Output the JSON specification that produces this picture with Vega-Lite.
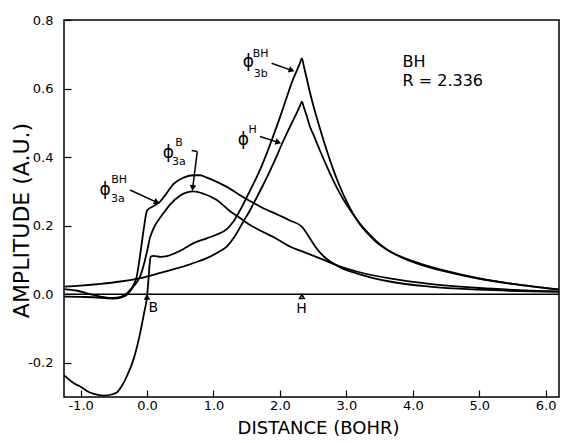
{
  "$schema": "https://vega.github.io/schema/vega-lite/v6.json",
  "width": 495,
  "height": 377,
  "autosize": {"type": "none"},
  "padding": {"left": 64, "top": 20, "right": 3, "bottom": 46},
  "background": "white",
  "config": {"view": {"stroke": "black", "strokeWidth": 1.5}, "font": "DejaVu Sans"},
  "datasets": {
    "axis0": [{"x": -1.25, "x2": 6.2, "y": 0}],
    "curves": [
      {"s": "3bBH", "x": -1.25, "y": -0.236}, {"s": "3bBH", "x": -1.1, "y": -0.26}, {"s": "3bBH", "x": -1.0, "y": -0.27},
      {"s": "3bBH", "x": -0.9, "y": -0.283}, {"s": "3bBH", "x": -0.8, "y": -0.291}, {"s": "3bBH", "x": -0.65, "y": -0.296},
      {"s": "3bBH", "x": -0.52, "y": -0.292}, {"s": "3bBH", "x": -0.45, "y": -0.286}, {"s": "3bBH", "x": -0.38, "y": -0.268},
      {"s": "3bBH", "x": -0.3, "y": -0.238}, {"s": "3bBH", "x": -0.2, "y": -0.188}, {"s": "3bBH", "x": -0.1, "y": -0.11},
      {"s": "3bBH", "x": -0.045, "y": -0.055}, {"s": "3bBH", "x": 0.0, "y": -0.006}, {"s": "3bBH", "x": 0.02, "y": 0.04},
      {"s": "3bBH", "x": 0.04, "y": 0.09}, {"s": "3bBH", "x": 0.055, "y": 0.11}, {"s": "3bBH", "x": 0.1, "y": 0.112},
      {"s": "3bBH", "x": 0.2, "y": 0.109}, {"s": "3bBH", "x": 0.3, "y": 0.111}, {"s": "3bBH", "x": 0.4, "y": 0.118},
      {"s": "3bBH", "x": 0.55, "y": 0.132}, {"s": "3bBH", "x": 0.7, "y": 0.149}, {"s": "3bBH", "x": 0.9, "y": 0.163},
      {"s": "3bBH", "x": 1.05, "y": 0.174}, {"s": "3bBH", "x": 1.2, "y": 0.19}, {"s": "3bBH", "x": 1.3, "y": 0.212},
      {"s": "3bBH", "x": 1.4, "y": 0.245}, {"s": "3bBH", "x": 1.5, "y": 0.283}, {"s": "3bBH", "x": 1.6, "y": 0.322},
      {"s": "3bBH", "x": 1.7, "y": 0.363}, {"s": "3bBH", "x": 1.8, "y": 0.41}, {"s": "3bBH", "x": 1.9, "y": 0.462},
      {"s": "3bBH", "x": 2.0, "y": 0.516}, {"s": "3bBH", "x": 2.1, "y": 0.573}, {"s": "3bBH", "x": 2.2, "y": 0.628},
      {"s": "3bBH", "x": 2.26, "y": 0.655}, {"s": "3bBH", "x": 2.3, "y": 0.674}, {"s": "3bBH", "x": 2.33, "y": 0.688},
      {"s": "3bBH", "x": 2.36, "y": 0.665}, {"s": "3bBH", "x": 2.4, "y": 0.632}, {"s": "3bBH", "x": 2.45, "y": 0.59},
      {"s": "3bBH", "x": 2.52, "y": 0.538}, {"s": "3bBH", "x": 2.6, "y": 0.485}, {"s": "3bBH", "x": 2.7, "y": 0.422},
      {"s": "3bBH", "x": 2.8, "y": 0.365}, {"s": "3bBH", "x": 2.9, "y": 0.315}, {"s": "3bBH", "x": 3.0, "y": 0.272},
      {"s": "3bBH", "x": 3.1, "y": 0.235}, {"s": "3bBH", "x": 3.2, "y": 0.205}, {"s": "3bBH", "x": 3.33, "y": 0.175},
      {"s": "3bBH", "x": 3.45, "y": 0.152}, {"s": "3bBH", "x": 3.6, "y": 0.131}, {"s": "3bBH", "x": 3.8, "y": 0.111},
      {"s": "3bBH", "x": 4.1, "y": 0.09}, {"s": "3bBH", "x": 4.5, "y": 0.068}, {"s": "3bBH", "x": 5.0, "y": 0.046},
      {"s": "3bBH", "x": 5.5, "y": 0.03}, {"s": "3bBH", "x": 6.2, "y": 0.014},

      {"s": "H", "x": -1.25, "y": 0.022}, {"s": "H", "x": -1.0, "y": 0.025}, {"s": "H", "x": -0.7, "y": 0.03},
      {"s": "H", "x": -0.4, "y": 0.037}, {"s": "H", "x": -0.1, "y": 0.047}, {"s": "H", "x": 0.2, "y": 0.062},
      {"s": "H", "x": 0.5, "y": 0.078}, {"s": "H", "x": 0.7, "y": 0.091}, {"s": "H", "x": 0.9, "y": 0.105},
      {"s": "H", "x": 1.1, "y": 0.126}, {"s": "H", "x": 1.2, "y": 0.139}, {"s": "H", "x": 1.3, "y": 0.163},
      {"s": "H", "x": 1.45, "y": 0.212}, {"s": "H", "x": 1.55, "y": 0.245}, {"s": "H", "x": 1.65, "y": 0.282},
      {"s": "H", "x": 1.75, "y": 0.32}, {"s": "H", "x": 1.85, "y": 0.36}, {"s": "H", "x": 1.95, "y": 0.402},
      {"s": "H", "x": 2.025, "y": 0.436}, {"s": "H", "x": 2.1, "y": 0.468}, {"s": "H", "x": 2.18, "y": 0.5},
      {"s": "H", "x": 2.26, "y": 0.532}, {"s": "H", "x": 2.3, "y": 0.549}, {"s": "H", "x": 2.33, "y": 0.562},
      {"s": "H", "x": 2.36, "y": 0.545}, {"s": "H", "x": 2.4, "y": 0.522}, {"s": "H", "x": 2.45, "y": 0.49},
      {"s": "H", "x": 2.52, "y": 0.458}, {"s": "H", "x": 2.6, "y": 0.42}, {"s": "H", "x": 2.7, "y": 0.375},
      {"s": "H", "x": 2.8, "y": 0.333}, {"s": "H", "x": 2.9, "y": 0.295}, {"s": "H", "x": 3.0, "y": 0.262},
      {"s": "H", "x": 3.1, "y": 0.233}, {"s": "H", "x": 3.2, "y": 0.207}, {"s": "H", "x": 3.33, "y": 0.178},
      {"s": "H", "x": 3.45, "y": 0.155}, {"s": "H", "x": 3.6, "y": 0.132}, {"s": "H", "x": 3.8, "y": 0.11},
      {"s": "H", "x": 4.1, "y": 0.087}, {"s": "H", "x": 4.5, "y": 0.066}, {"s": "H", "x": 5.0, "y": 0.045},
      {"s": "H", "x": 5.5, "y": 0.03}, {"s": "H", "x": 6.2, "y": 0.013},

      {"s": "3aBH", "x": -1.25, "y": 0.015}, {"s": "3aBH", "x": -1.05, "y": 0.01}, {"s": "3aBH", "x": -0.86, "y": 0.0},
      {"s": "3aBH", "x": -0.7, "y": -0.007}, {"s": "3aBH", "x": -0.56, "y": -0.011}, {"s": "3aBH", "x": -0.45, "y": -0.01},
      {"s": "3aBH", "x": -0.35, "y": -0.004}, {"s": "3aBH", "x": -0.28, "y": 0.007}, {"s": "3aBH", "x": -0.2, "y": 0.028},
      {"s": "3aBH", "x": -0.155, "y": 0.052}, {"s": "3aBH", "x": -0.1, "y": 0.12}, {"s": "3aBH", "x": -0.05, "y": 0.19},
      {"s": "3aBH", "x": 0.0, "y": 0.244}, {"s": "3aBH", "x": 0.1, "y": 0.257}, {"s": "3aBH", "x": 0.195, "y": 0.27},
      {"s": "3aBH", "x": 0.3, "y": 0.296}, {"s": "3aBH", "x": 0.4, "y": 0.322}, {"s": "3aBH", "x": 0.55, "y": 0.34},
      {"s": "3aBH", "x": 0.7, "y": 0.347}, {"s": "3aBH", "x": 0.8, "y": 0.347}, {"s": "3aBH", "x": 0.9, "y": 0.34},
      {"s": "3aBH", "x": 1.0, "y": 0.332}, {"s": "3aBH", "x": 1.2, "y": 0.313}, {"s": "3aBH", "x": 1.45, "y": 0.283},
      {"s": "3aBH", "x": 1.7, "y": 0.256}, {"s": "3aBH", "x": 2.0, "y": 0.229}, {"s": "3aBH", "x": 2.15, "y": 0.215},
      {"s": "3aBH", "x": 2.33, "y": 0.197}, {"s": "3aBH", "x": 2.45, "y": 0.163}, {"s": "3aBH", "x": 2.55, "y": 0.134},
      {"s": "3aBH", "x": 2.66, "y": 0.11}, {"s": "3aBH", "x": 2.8, "y": 0.09}, {"s": "3aBH", "x": 2.9, "y": 0.079},
      {"s": "3aBH", "x": 3.2, "y": 0.058}, {"s": "3aBH", "x": 3.65, "y": 0.037}, {"s": "3aBH", "x": 4.25, "y": 0.022},
      {"s": "3aBH", "x": 5.0, "y": 0.013}, {"s": "3aBH", "x": 6.2, "y": 0.007},

      {"s": "3aB", "x": -1.25, "y": -0.007}, {"s": "3aB", "x": -1.0, "y": -0.008}, {"s": "3aB", "x": -0.8, "y": -0.009},
      {"s": "3aB", "x": -0.6, "y": -0.012}, {"s": "3aB", "x": -0.5, "y": -0.013}, {"s": "3aB", "x": -0.4, "y": -0.01},
      {"s": "3aB", "x": -0.3, "y": -0.001}, {"s": "3aB", "x": -0.25, "y": 0.01}, {"s": "3aB", "x": -0.2, "y": 0.024},
      {"s": "3aB", "x": -0.15, "y": 0.036}, {"s": "3aB", "x": -0.105, "y": 0.052}, {"s": "3aB", "x": -0.05, "y": 0.085},
      {"s": "3aB", "x": 0.0, "y": 0.125}, {"s": "3aB", "x": 0.045, "y": 0.165}, {"s": "3aB", "x": 0.1, "y": 0.193},
      {"s": "3aB", "x": 0.17, "y": 0.216}, {"s": "3aB", "x": 0.245, "y": 0.236}, {"s": "3aB", "x": 0.35, "y": 0.262},
      {"s": "3aB", "x": 0.5, "y": 0.288}, {"s": "3aB", "x": 0.6, "y": 0.297}, {"s": "3aB", "x": 0.7, "y": 0.3},
      {"s": "3aB", "x": 0.85, "y": 0.293}, {"s": "3aB", "x": 1.05, "y": 0.275}, {"s": "3aB", "x": 1.25, "y": 0.242},
      {"s": "3aB", "x": 1.4, "y": 0.222}, {"s": "3aB", "x": 1.55, "y": 0.202}, {"s": "3aB", "x": 1.7, "y": 0.186},
      {"s": "3aB", "x": 1.9, "y": 0.167}, {"s": "3aB", "x": 2.15, "y": 0.139}, {"s": "3aB", "x": 2.4, "y": 0.12},
      {"s": "3aB", "x": 2.66, "y": 0.1}, {"s": "3aB", "x": 2.9, "y": 0.081}, {"s": "3aB", "x": 3.2, "y": 0.064},
      {"s": "3aB", "x": 3.65, "y": 0.046}, {"s": "3aB", "x": 4.25, "y": 0.03}, {"s": "3aB", "x": 5.0, "y": 0.018},
      {"s": "3aB", "x": 6.2, "y": 0.008}
    ],
    "arrows": [
      {"x": -0.256, "y": 0.304, "x2": 0.148, "y2": 0.268},
      {"x": 0.672, "y": 0.419, "x2": 0.756, "y2": 0.416},
      {"x": 0.756, "y": 0.416, "x2": 0.687, "y2": 0.31},
      {"x": 1.875, "y": 0.674, "x2": 2.176, "y2": 0.653},
      {"x": 1.7, "y": 0.46, "x2": 1.976, "y2": 0.443}
    ],
    "heads": [
      {"id": 1, "x": 0.148, "y": 0.268},
      {"id": 2, "x": 0.687, "y": 0.31},
      {"id": 3, "x": 2.176, "y": 0.653},
      {"id": 4, "x": 1.976, "y": 0.443}
    ],
    "markB": [{"x": 0.0, "y": -0.008}],
    "markH": [{"x": 2.33, "y": -0.007}],
    "atoms": [{"x": 0.095, "y": -0.04, "t": "B"}, {"x": 2.326, "y": -0.043, "t": "H"}],
    "phis": [
      {"x": -0.632, "y": 0.304, "t": "ϕ"},
      {"x": 0.32, "y": 0.411, "t": "ϕ"},
      {"x": 1.523, "y": 0.676, "t": "ϕ"},
      {"x": 1.448, "y": 0.45, "t": "ϕ"}
    ],
    "scripts": [
      {"x": -0.42, "y": 0.333, "t": "BH"}, {"x": -0.44, "y": 0.279, "t": "3a"},
      {"x": 0.48, "y": 0.442, "t": "B"}, {"x": 0.48, "y": 0.386, "t": "3a"},
      {"x": 1.71, "y": 0.701, "t": "BH"}, {"x": 1.71, "y": 0.641, "t": "3b"},
      {"x": 1.59, "y": 0.478, "t": "H"}
    ],
    "info": [{"x": 3.845, "y": 0.676, "t": "BH"}, {"x": 3.845, "y": 0.621, "t": "R = 2.336"}]
  },
  "encoding": {
    "x": {
      "field": "x", "type": "quantitative",
      "scale": {"domain": [-1.25, 6.2], "nice": false, "zero": false},
      "axis": {
        "title": "DISTANCE (BOHR)", "values": [-1, 0, 1, 2, 3, 4, 5, 6],
        "labelExpr": "replace(format(datum.value, '.1f'), '−', '-')",
        "grid": false, "domain": false, "tickSize": -7, "tickColor": "black", "tickWidth": 1.2,
        "labelFontSize": 13, "labelColor": "black", "labelPadding": 9, "labelFlush": false,
        "titleFontSize": 18, "titleFontWeight": "normal", "titleColor": "black", "titlePadding": 7,
        "titleX": 254
      }
    },
    "y": {
      "field": "y", "type": "quantitative",
      "scale": {"domain": [-0.3, 0.8], "nice": false, "zero": false},
      "axis": {
        "title": "AMPLITUDE (A.U.)", "values": [-0.2, 0, 0.2, 0.4, 0.6, 0.8],
        "labelExpr": "replace(format(datum.value, '.1f'), '−', '-')",
        "grid": false, "domain": false, "tickSize": -7, "tickColor": "black", "tickWidth": 1.2,
        "labelFontSize": 13, "labelColor": "black", "labelPadding": 18, "labelFlush": false,
        "titleFontSize": 22, "titleFontWeight": "normal", "titleColor": "black",
        "titleX": -31, "titleY": 200, "titleAngle": -90, "titleBaseline": "bottom", "titleAlign": "center"
      }
    }
  },
  "layer": [
    {"data": {"name": "axis0"}, "mark": {"type": "rule", "color": "black", "strokeWidth": 1.5}, "encoding": {"x2": {"field": "x2"}}},
    {"data": {"name": "curves"}, "mark": {"type": "line", "color": "black", "strokeWidth": 1.8, "interpolate": "monotone"}, "encoding": {"detail": {"field": "s"}}},
    {"data": {"name": "arrows"}, "mark": {"type": "rule", "color": "black", "strokeWidth": 1.5}, "encoding": {"x2": {"field": "x2"}, "y2": {"field": "y2"}}},
    {"data": {"name": "heads"}, "transform": [{"filter": "datum.id == 1"}], "mark": {"type": "point", "shape": "triangle-up", "filled": true, "color": "black", "opacity": 1, "size": 45, "angle": 115}},
    {"data": {"name": "heads"}, "transform": [{"filter": "datum.id == 2"}], "mark": {"type": "point", "shape": "triangle-up", "filled": true, "color": "black", "opacity": 1, "size": 45, "angle": 187}},
    {"data": {"name": "heads"}, "transform": [{"filter": "datum.id == 3"}], "mark": {"type": "point", "shape": "triangle-up", "filled": true, "color": "black", "opacity": 1, "size": 45, "angle": 110}},
    {"data": {"name": "heads"}, "transform": [{"filter": "datum.id == 4"}], "mark": {"type": "point", "shape": "triangle-up", "filled": true, "color": "black", "opacity": 1, "size": 45, "angle": 107}},
    {"data": {"name": "markB"}, "mark": {"type": "point", "shape": "triangle-up", "filled": true, "color": "black", "opacity": 1, "size": 45}},
    {"data": {"name": "markH"}, "mark": {"type": "point", "shape": "triangle-up", "filled": false, "color": "black", "opacity": 1, "size": 22, "strokeWidth": 1.5}},
    {"data": {"name": "atoms"}, "mark": {"type": "text", "font": "DejaVu Sans", "fontSize": 14, "color": "black", "align": "center", "baseline": "middle"}, "encoding": {"text": {"field": "t"}}},
    {"data": {"name": "phis"}, "mark": {"type": "text", "font": "DejaVu Sans", "fontSize": 17, "color": "black", "fill": "black", "align": "center", "baseline": "middle"}, "encoding": {"text": {"field": "t"}}},
    {"data": {"name": "scripts"}, "mark": {"type": "text", "font": "DejaVu Sans", "fontSize": 11, "color": "black", "align": "center", "baseline": "middle"}, "encoding": {"text": {"field": "t"}}},
    {"data": {"name": "info"}, "mark": {"type": "text", "font": "DejaVu Sans", "fontSize": 16, "color": "black", "align": "left", "baseline": "middle"}, "encoding": {"text": {"field": "t"}}}
  ]
}
